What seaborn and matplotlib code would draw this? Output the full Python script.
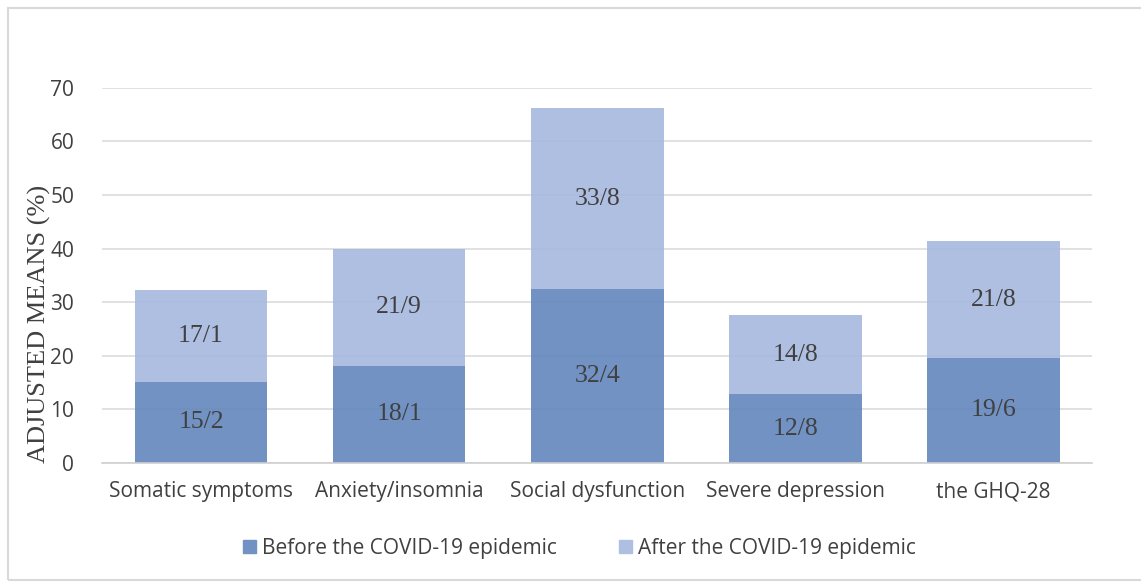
import numpy as np
import pandas as pd
import matplotlib
matplotlib.use('Agg')
import matplotlib.pyplot as plt
import seaborn as sns
from matplotlib.patches import Rectangle, Patch

categories = ['Somatic symptoms', 'Anxiety/insomnia', 'Social dysfunction', 'Severe depression', 'the GHQ-28']
before = [15.2, 18.1, 32.4, 12.8, 19.6]
after = [17.1, 21.9, 33.8, 14.8, 21.8]
before_labels = ['15/2', '18/1', '32/4', '12/8', '19/6']
after_labels = ['17/1', '21/9', '33/8', '14/8', '21/8']

# slightly see-through bars so the gridlines show faintly, like the original
dark = '#6286BD'
light = '#A6B8DE'
txt = '#404040'

sns.set_theme(style='white')
plt.rcParams['font.family'] = ['Open Sans', 'DejaVu Sans']

df = pd.DataFrame({'cat': categories, 'before': before, 'after': after})

fig = plt.figure(figsize=(11.41, 5.82), dpi=100)
ax = fig.add_axes([0.0894, 0.2045, 0.868, 0.6445])

ax.yaxis.grid(True, color='#dcdcdc', linewidth=1.2, zorder=0)
ax.set_axisbelow(True)

sns.barplot(data=df, x='cat', y='before', color=dark, saturation=1, width=0.67, ax=ax, zorder=2,
            linewidth=0, alpha=0.9)
sns.barplot(data=df, x='cat', y='after', bottom=df['before'].values, color=light, saturation=1,
            width=0.67, ax=ax, zorder=2, linewidth=0, alpha=0.9)

for i in range(len(categories)):
    ax.text(i, before[i] / 2, before_labels[i], ha='center', va='center',
            fontsize=18.5, color=txt, family='Liberation Serif', zorder=4)
    ax.text(i, before[i] + after[i] / 2, after_labels[i], ha='center', va='center',
            fontsize=18.5, color=txt, family='Liberation Serif', zorder=4)

ax.set_ylim(0, 70)
ax.set_yticks(range(0, 71, 10))
ax.set_xlim(-0.5, 4.5)
for s in ['top', 'right', 'left']:
    ax.spines[s].set_visible(False)
ax.spines['bottom'].set_color('#d0d0d0')
ax.spines['bottom'].set_linewidth(1.2)
ax.spines['bottom'].set_zorder(5)
ax.tick_params(axis='both', length=0, colors=txt, labelsize=15)
ax.tick_params(axis='x', pad=13)
ax.tick_params(axis='y', pad=20)
ax.set_xlabel('')
ax.set_ylabel('ADJUSTED MEANS (%)', fontsize=19, color=txt, family='Liberation Serif', loc='bottom')
ax.yaxis.set_label_coords(-0.052, 0)

handles = [Patch(color='#7292C4', label='Before the COVID-19 epidemic'),
           Patch(color='#AFBFE1', label='After the COVID-19 epidemic')]
fig.legend(handles=handles, loc='center', bbox_to_anchor=(0.508, 0.058), ncol=2, frameon=False,
           fontsize=15, handlelength=0.6, handleheight=0.6, columnspacing=3.0, handletextpad=0.3,
           labelcolor=txt)

fig.patches.append(Rectangle((8 / 1141, 2 / 582), 1.2, 572 / 582, transform=fig.transFigure,
                             fill=False, edgecolor='#d9d9d9', linewidth=1.5))

fig.savefig('out.png', dpi=100)
